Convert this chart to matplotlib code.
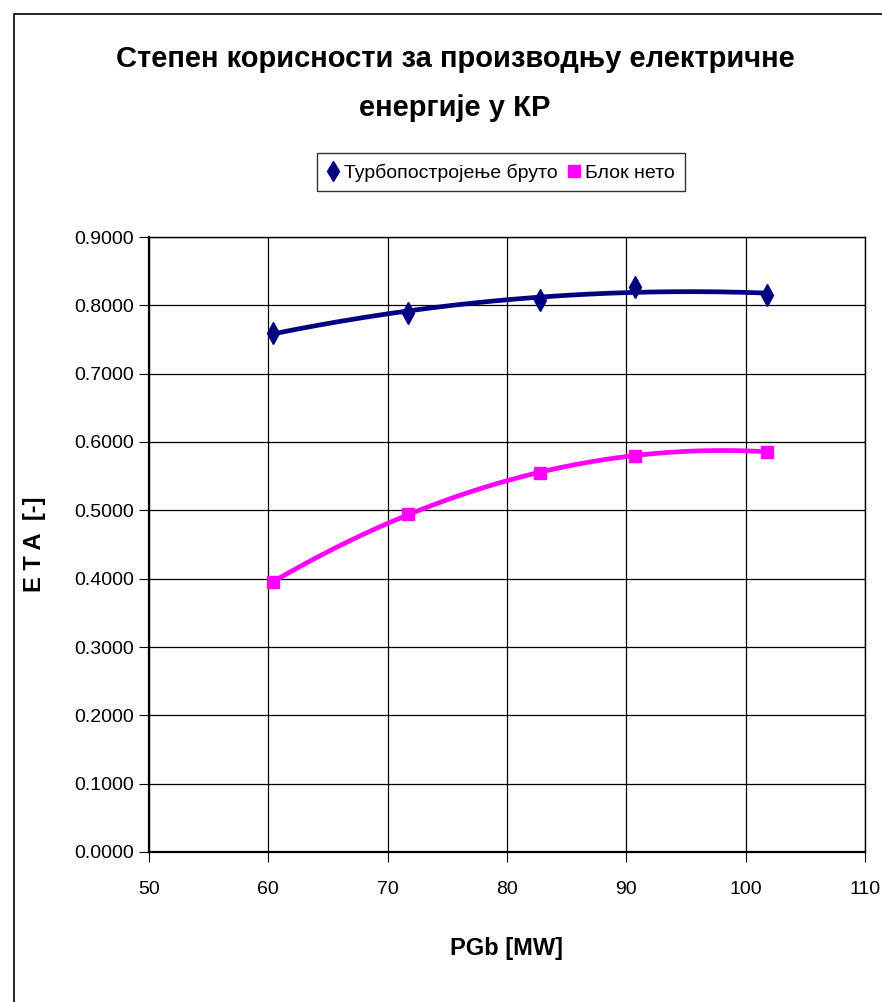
import numpy as np
import matplotlib
matplotlib.use("Agg")
import matplotlib.pyplot as plt
from matplotlib.patches import Rectangle

# data
pgb = [60.4, 71.7, 82.8, 90.75, 101.8]
eta_turbo = [0.760, 0.789, 0.808, 0.827, 0.815]
eta_blok = [0.395, 0.495, 0.555, 0.580, 0.586]
series_names = ["Турбопостројење бруто", "Блок нето"]
x_ticks = [50, 60, 70, 80, 90, 100, 110]
y_ticks = [0.0, 0.1, 0.2, 0.3, 0.4, 0.5, 0.6, 0.7, 0.8, 0.9]

plt.rcParams["font.family"] = ["Liberation Sans", "DejaVu Sans"]

fig = plt.figure(figsize=(8.82, 10.02), dpi=100)
# outer chart border (right and bottom run off the picture)
fig.patches.append(Rectangle((14 / 882, -0.1), 1.2, 1 - 14 / 1002 + 0.1,
                             transform=fig.transFigure, fill=False,
                             edgecolor="black", linewidth=1.2))

ax = fig.add_axes([149 / 882, 1 - 852 / 1002, (865 - 149) / 882, (852 - 237) / 1002])

# trendlines (2nd order polynomial, like the excel chart)
for y, color in [(eta_turbo, "#000080"), (eta_blok, "#FF00FF")]:
    coef = np.polyfit(pgb, y, 2)
    xs = np.linspace(min(pgb), max(pgb), 200)
    ax.plot(xs, np.polyval(coef, xs), color=color, linewidth=3.4, zorder=3)

ax.plot(pgb, eta_turbo, linestyle="none", marker="d", markersize=11,
        color="#000080", label=series_names[0], zorder=4)
ax.plot(pgb, eta_blok, linestyle="none", marker="s", markersize=9,
        color="#FF00FF", label=series_names[1], zorder=4)

ax.set_xlim(50, 110)
ax.set_ylim(0, 0.9)
ax.set_xticks(x_ticks)
ax.set_yticks(y_ticks)
ax.set_yticklabels([f"{v:.4f}" for v in y_ticks])
ax.grid(True, color="black", linewidth=0.9)
ax.set_axisbelow(True)
for s in ax.spines.values():
    s.set_color("black")
    s.set_linewidth(1.0)
ax.spines["left"].set_linewidth(1.6)
ax.spines["bottom"].set_linewidth(1.6)
ax.tick_params(axis="both", labelsize=14, length=7, color="black", direction="out")
ax.tick_params(axis="x", pad=14)
ax.tick_params(axis="y", pad=4)

ax.set_xlabel("PGb [MW]", fontsize=17, fontweight="bold", labelpad=28)
ax.set_ylabel("E T A  [-]", fontsize=17, fontweight="bold", labelpad=20)

fig.text(0.516, 0.941, "Степен корисности за производњу електричне",
         ha="center", va="center", fontsize=21, fontweight="bold")
fig.text(0.516, 0.892, "енергије у КР",
         ha="center", va="center", fontsize=21, fontweight="bold")

leg = fig.legend(loc="center", bbox_to_anchor=(0.568, 0.828), ncol=2, fontsize=14,
                 frameon=True, fancybox=False, edgecolor="black", handlelength=0.6,
                 handletextpad=0.3, columnspacing=0.5, borderpad=0.5, markerscale=0.9)
leg.get_frame().set_linewidth(1.0)

fig.savefig("out.png", dpi=100)
